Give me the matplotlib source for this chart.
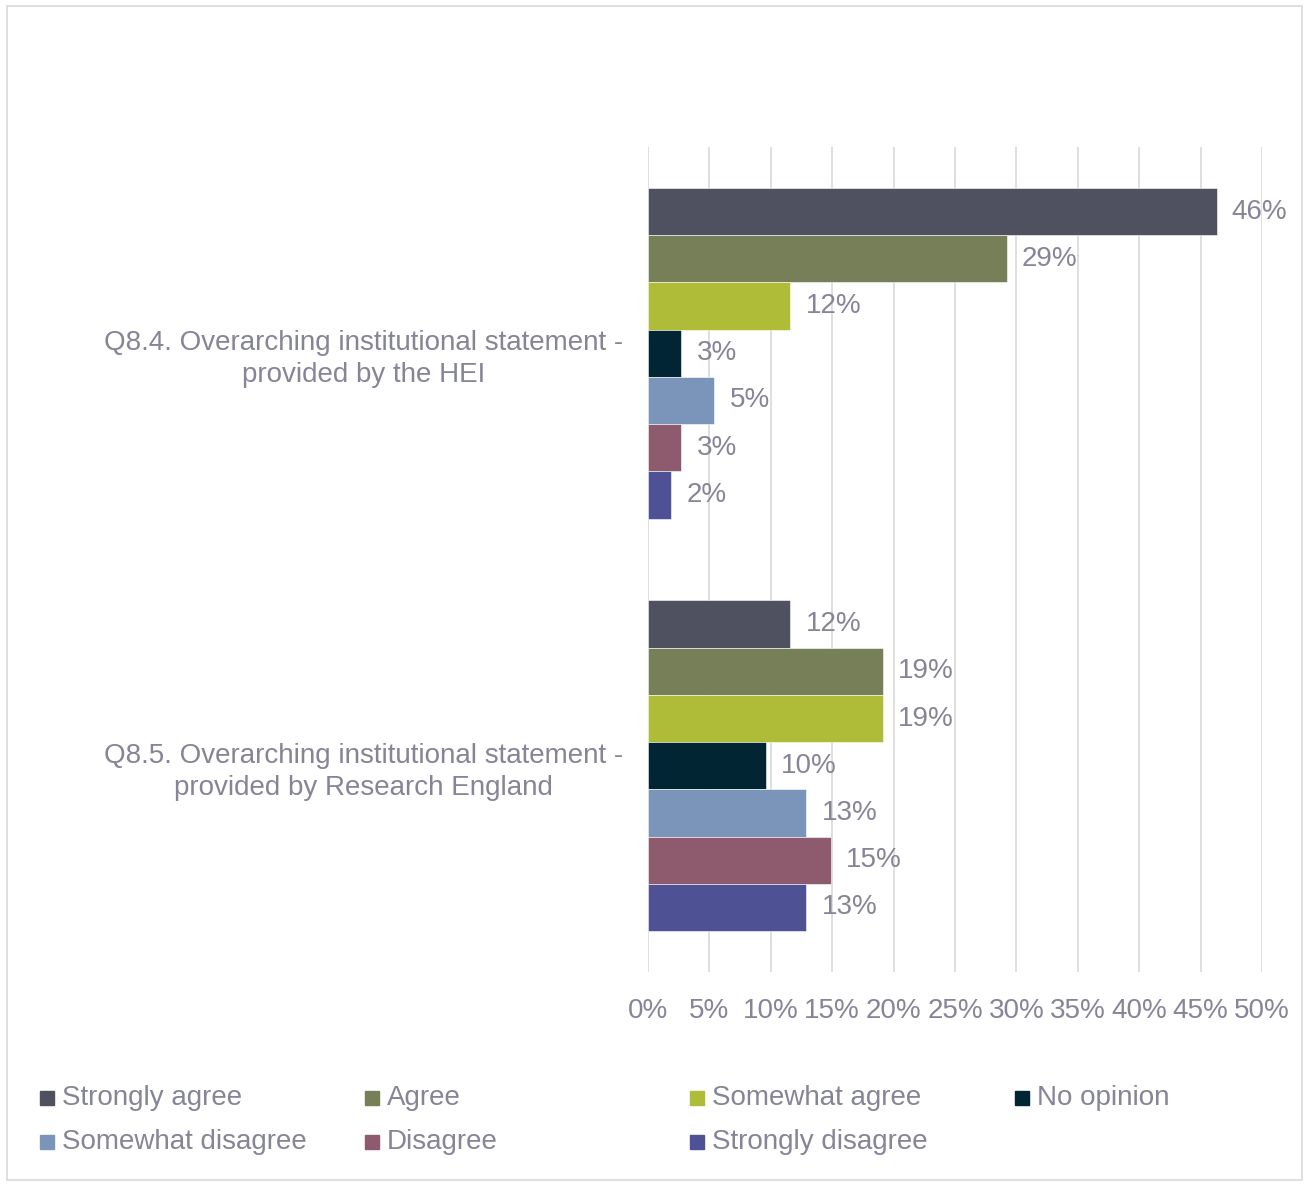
import numpy as np
import matplotlib.pyplot as plt
from matplotlib.patches import Rectangle

plt.rcParams['font.family'] = ['Liberation Sans', 'DejaVu Sans']

# Data
questions = ['Q8.4. Overarching institutional statement -\nprovided by the HEI',
             'Q8.5. Overarching institutional statement -\nprovided by Research England']
responses = ['Strongly agree', 'Agree', 'Somewhat agree', 'No opinion',
             'Somewhat disagree', 'Disagree', 'Strongly disagree']
q84_values = [46.3, 29.2, 11.6, 2.7, 5.4, 2.7, 1.9]
q85_values = [11.6, 19.1, 19.1, 9.6, 12.9, 14.9, 12.9]
colors = ['#4f5161', '#767f58', '#aebc38', '#022534', '#7a95b9', '#8e5a6d', '#4e5294']
xticks = [0, 5, 10, 15, 20, 25, 30, 35, 40, 45, 50]

text_col = '#858597'

fig = plt.figure(figsize=(13.09, 11.86), dpi=100)
fig.patches.append(Rectangle((7 / 1309, 6 / 1186), 1295 / 1309, 1174 / 1186,
                             transform=fig.transFigure, fill=False,
                             edgecolor='#d9d9d9', linewidth=1.2))

ax = fig.add_axes([648 / 1309, 1 - 972 / 1186, 614 / 1309, 825 / 1186])

values = np.array([q84_values, q85_values])  # shape (question, response)
n = len(responses)
bh = 0.1145
ypos = np.arange(len(questions))
for i, resp in enumerate(responses):
    y = ypos - bh * (n - 1) / 2 + i * bh
    bars = ax.barh(y, values[:, i], height=bh, color=colors[i], zorder=3,
                   edgecolor='white', linewidth=0.4)
    ax.bar_label(bars, labels=[f'{v:.0f}%' for v in values[:, i]], padding=11,
                 color=text_col, fontsize=20)

ax.set_xlim(0, 50)
ax.set_ylim(1.5, -0.5)
ax.set_xticks(xticks)
ax.set_xticklabels([f'{t}%' for t in xticks], color=text_col, fontsize=20)
ax.set_yticks(ypos)
ax.set_yticklabels(questions, color=text_col, fontsize=20, multialignment='center',
                   linespacing=1.3)
ax.tick_params(axis='x', length=0, pad=19)
ax.tick_params(axis='y', length=0, pad=18)
ax.grid(axis='x', color='#d9d9d9', linewidth=1.2, zorder=0)
for s in ax.spines.values():
    s.set_visible(False)

# legend laid out in equal columns like the original
leg_x = [40, 365, 690, 1015]
leg_y = [1098, 1142]
for k, resp in enumerate(responses):
    r, c = divmod(k, 4)
    x0 = leg_x[c] / 1309
    y0 = 1 - leg_y[r] / 1186
    fig.patches.append(Rectangle((x0, y0 - 7 / 1186), 14 / 1309, 14 / 1186,
                                 transform=fig.transFigure, color=colors[k]))
    fig.text(x0 + 22 / 1309, y0, resp, color=text_col, fontsize=20,
             va='center', ha='left')

fig.savefig('out.png', dpi=100)
